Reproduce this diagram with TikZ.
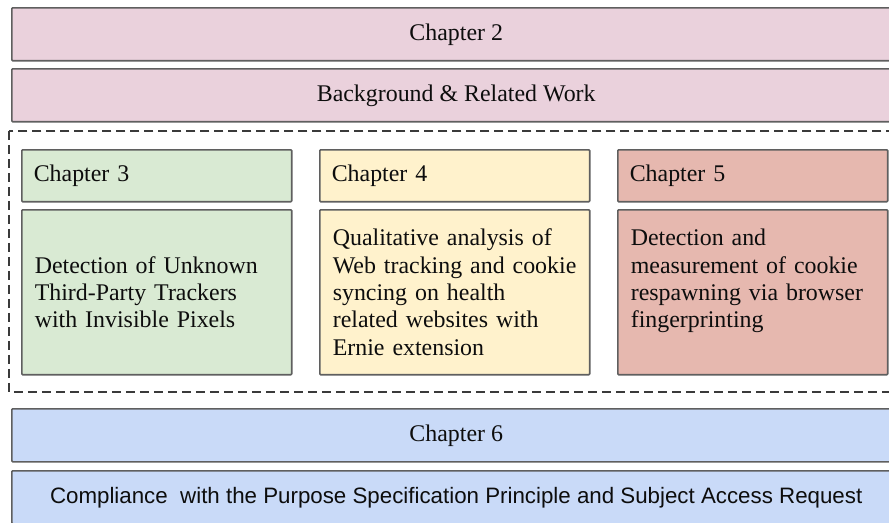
\documentclass[tikz,border=0pt]{standalone}
\usepackage{fontspec}
\setmainfont{Liberation Serif}
\newfontfamily\docsans{Liberation Sans}
\definecolor{chpink}{HTML}{EAD1DC}
\definecolor{chgreen}{HTML}{D9EAD3}
\definecolor{chyellow}{HTML}{FFF2CC}
\definecolor{chred}{HTML}{E6B8AF}
\definecolor{chblue}{HTML}{C9DAF8}
\definecolor{boxgray}{HTML}{5F5F5F}
\definecolor{dashgray}{HTML}{3A3A3A}
\begin{document}
\begin{tikzpicture}[x=0.02cm, y=-0.02cm,
    box/.style={draw=boxgray, line width=0.032cm, rounded corners=0.02cm,
      inner sep=0pt, anchor=north west, text=black!95},
    wide/.style={box, minimum width=17.78cm, minimum height=1.06cm,
      font=\fontsize{13.6pt}{15.6pt}\selectfont},
    head/.style={box, text width=4.92cm, inner xsep=0.24cm, minimum height=1.04cm,
      align=left, font=\fontsize{13.6pt}{15.6pt}\selectfont},
    body/.style={box, text width=4.88cm, inner xsep=0.26cm, minimum height=3.3cm,
      align=left, font=\fontsize{13.6pt}{15.6pt}\selectfont}]
  \path[use as bounding box, clip] (0,0) rectangle (889,522);

  \node[wide, fill=chpink] (ch2) at (11,7) {\raisebox{-0.05cm}{Chapter 2}};
  \node[wide, fill=chpink] (background) at (11,68)
    {\raisebox{-0.05cm}{Background \& Related Work}};

  \draw[dashgray, line width=0.04cm, dash pattern=on 0.18cm off 0.1cm]
    (9,131) rectangle (905,392);

  \node[head, fill=chgreen] (ch3) at (21,149) {Chapter 3};
  \node[head, fill=chyellow] (ch4) at (319,149) {Chapter 4};
  \node[head, fill=chred] (ch5) at (617,149) {Chapter 5};

  \node[body, fill=chgreen] (pixels) at (21,209)
    {Detection of Unknown\\ Third-Party Trackers\\ with Invisible Pixels};
  \node[body, fill=chyellow] (ernie) at (319,209)
    {Qualitative analysis of\\ Web tracking and cookie\\ syncing on health\\
     related websites with\\ Ernie extension};
  \node[body, fill=chred] (respawn) at (617,209)
    {Detection and\\ measurement of cookie\\ respawning via browser\\
     fingerprinting\\ \mbox{}};

  \node[wide, fill=chblue] (ch6) at (11,408) {\raisebox{-0.05cm}{Chapter 6}};
  \node[wide, fill=chblue, font=\docsans\fontsize{12.7pt}{15pt}\selectfont]
    (compliance) at (11,470)
    {Compliance\ \ with the Purpose Specification Principle and Subject Access Request};
\end{tikzpicture}
\end{document}
